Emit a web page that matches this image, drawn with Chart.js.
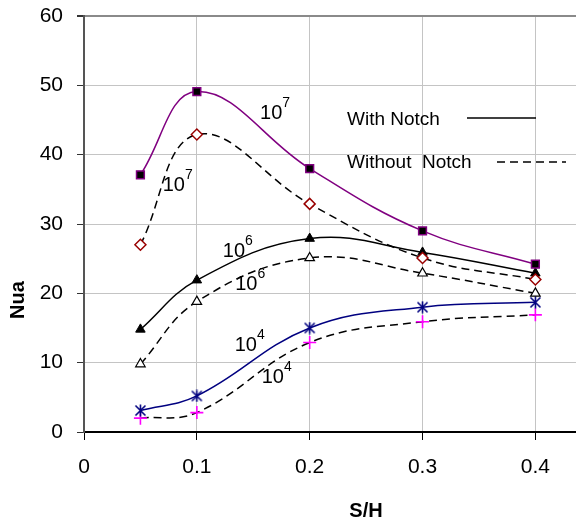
<!DOCTYPE html>
<html>
<head>
<meta charset="utf-8">
<script src="https://cdn.jsdelivr.net/npm/chart.js@4/dist/chart.umd.min.js"></script>
<style>
  html, body { margin: 0; padding: 0; background: #fff; }
  #wrap { width: 576px; height: 523px; }
</style>
</head>
<body>
<div id="wrap"><canvas id="c" width="576" height="523"></canvas></div>
<script>
// ---- data ----
const sh = [0.05, 0.1, 0.2, 0.3, 0.4];
const withNotch7 = [37.1, 49.1, 38, 29, 24.2];
const withoutNotch7 = [27, 42.9, 32.9, 25.1, 22];
const withNotch6 = [14.8, 21.9, 27.9, 25.9, 22.9];
const withoutNotch6 = [9.8, 18.8, 25.1, 22.9, 20];
const withNotch4 = [3.1, 5.2, 15, 18, 18.7];
const withoutNotch4 = [2, 2.8, 12.9, 15.9, 16.9];
const xTicks = [0, 0.1, 0.2, 0.3, 0.4];
const yTicks = [0, 10, 20, 30, 40, 50, 60];
const legendNames = ['With Notch', 'Without  Notch'];
const xTitle = 'S/H';
const yTitle = 'Nua';
// curve labels: base "10" with exponent, anchored in data units
const curveLabelExp = ['7', '7', '6', '6', '4', '4'];
const curveLabelX = [0.156, 0.0697, 0.123, 0.134, 0.1335, 0.1575];
const curveLabelY = [46.0, 35.6, 26.1, 21.3, 12.5, 7.9];

const FONT = '"Liberation Sans", Arial, Helvetica, sans-serif';

function pts(ys) { return sh.map((x, i) => ({ x: x, y: ys[i] })); }

// Excel-style star marker (X with vertical bar)
function starMarker(color) {
  const c = document.createElement('canvas');
  c.width = 13; c.height = 13;
  const g = c.getContext('2d');
  g.strokeStyle = color; g.lineWidth = 1.6;
  g.beginPath();
  g.moveTo(1.5, 1.5); g.lineTo(11.5, 11.5);
  g.moveTo(11.5, 1.5); g.lineTo(1.5, 11.5);
  g.moveTo(6.5, 0.5); g.lineTo(6.5, 12.5);
  g.stroke();
  return c;
}

const DASH = [8, 5];

const datasets = [
  { data: pts(withNotch7), borderColor: '#800080', borderWidth: 1.5,
    pointStyle: 'rect', pointRadius: 5.5, pointBackgroundColor: '#000', pointBorderColor: '#800080', pointBorderWidth: 1.5 },
  { data: pts(withoutNotch7), borderColor: '#000', borderWidth: 1.5, borderDash: DASH,
    pointStyle: 'rectRot', pointRadius: 5.5, pointBackgroundColor: '#fff', pointBorderColor: '#990000', pointBorderWidth: 1.5 },
  { data: pts(withNotch6), borderColor: '#000', borderWidth: 1.5,
    pointStyle: 'triangle', pointRadius: 5.5, pointBackgroundColor: '#000', pointBorderColor: '#000', pointBorderWidth: 1 },
  { data: pts(withoutNotch6), borderColor: '#000', borderWidth: 1.5, borderDash: DASH,
    pointStyle: 'triangle', pointRadius: 5.5, pointBackgroundColor: '#fff', pointBorderColor: '#000', pointBorderWidth: 1.2 },
  { data: pts(withNotch4), borderColor: '#000080', borderWidth: 1.5,
    pointStyle: starMarker('#000080'), pointRadius: 6 },
  { data: pts(withoutNotch4), borderColor: '#000', borderWidth: 1.5, borderDash: DASH,
    pointStyle: 'cross', pointRadius: 6.5, pointBorderColor: '#ff00ff', pointBorderWidth: 1.6 }
];

// stretch the plot area to the right canvas edge, as in the original figure
const stretchPlugin = {
  id: 'stretch',
  afterLayout(chart) {
    const right = chart.width;
    chart.chartArea.right = right;
    chart.chartArea.width = right - chart.chartArea.left;
    const xs = chart.scales.x;
    xs.right = right;
    xs.width = right - xs.left;
    xs.configure();
    const ys = chart.scales.y;
    ys.configure();
  }
};

const overlayPlugin = {
  id: 'overlay',
  afterDatasetsDraw(chart) {
    const ctx = chart.ctx;
    const xs = chart.scales.x, ys = chart.scales.y;
    ctx.save();
    ctx.fillStyle = '#000';
    ctx.textBaseline = 'middle';
    ctx.textAlign = 'left';
    // curve labels
    for (let i = 0; i < curveLabelExp.length; i++) {
      const px = xs.getPixelForValue(curveLabelX[i]);
      const py = ys.getPixelForValue(curveLabelY[i]);
      ctx.font = '20px ' + FONT;
      ctx.fillText('10', px, py);
      const w = ctx.measureText('10').width;
      ctx.font = '14px ' + FONT;
      ctx.fillText(curveLabelExp[i], px + w, py - 10);
    }
    // legend
    const area = chart.chartArea;
    ctx.font = '19px ' + FONT;
    const lx = area.left + 263;
    const ly1 = area.top + 104, ly2 = area.top + 147;
    ctx.fillText(legendNames[0], lx, ly1);
    ctx.fillText(legendNames[1], lx, ly2);
    ctx.strokeStyle = '#000';
    ctx.lineWidth = 1.5;
    ctx.beginPath();
    ctx.moveTo(area.left + 383, ly1 - 2);
    ctx.lineTo(area.left + 452, ly1 - 2);
    ctx.stroke();
    ctx.setLineDash(DASH);
    ctx.beginPath();
    ctx.moveTo(area.left + 413, ly2 - 1);
    ctx.lineTo(area.left + 482, ly2 - 1);
    ctx.stroke();
    ctx.setLineDash([]);
    // axis titles
    ctx.font = 'bold 20px ' + FONT;
    ctx.textAlign = 'center';
    ctx.fillText(xTitle, 366, 511);
    ctx.translate(18, 300);
    ctx.rotate(-Math.PI / 2);
    ctx.fillText(yTitle, 0, 0);
    ctx.restore();
  }
};

new Chart(document.getElementById('c'), {
  type: 'line',
  data: { datasets: datasets },
  plugins: [stretchPlugin, overlayPlugin],
  options: {
    responsive: false,
    devicePixelRatio: 1,
    animation: false,
    layout: { padding: { top: 16, right: 0, bottom: 0, left: 0 } },
    plugins: { legend: { display: false }, tooltip: { enabled: false } },
    elements: { line: { tension: 0.4, fill: false } },
    scales: {
      x: {
        type: 'linear', min: 0, max: 0.436,
        afterBuildTicks(s) { s.ticks = xTicks.map(v => ({ value: v })); },
        afterFit(s) { s.height = 91; s.paddingLeft = 0; s.paddingRight = 0; },
        ticks: { color: '#000', font: { family: FONT, size: 21 }, padding: 15,
                 callback: v => String(v) },
        grid: { color: '#c4c4c4', lineWidth: 1, tickLength: 8, tickColor: '#000' },
        border: { color: '#000', width: 2 }
      },
      y: {
        type: 'linear', min: 0, max: 60,
        afterBuildTicks(s) { s.ticks = yTicks.map(v => ({ value: v })); },
        afterFit(s) { s.width = 84; s.paddingTop = 0; s.paddingBottom = 0; },
        ticks: { color: '#000', font: { family: FONT, size: 21 }, padding: 14 },
        grid: {
          color: c => (c.tick && c.tick.value === 60) ? '#8a8a8a' : '#c4c4c4',
          lineWidth: c => (c.tick && c.tick.value === 60) ? 2 : 1,
          tickLength: 7, tickColor: '#333'
        },
        border: { color: '#555', width: 2 }
      }
    }
  }
});
</script>
</body>
</html>
